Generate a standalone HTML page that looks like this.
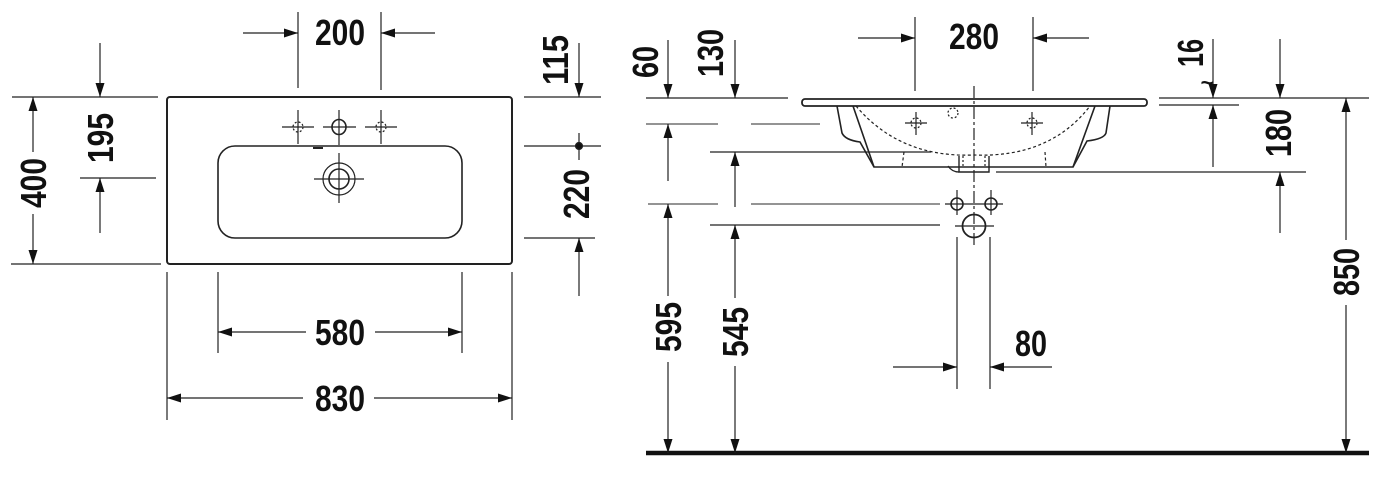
<!DOCTYPE html>
<html><head><meta charset="utf-8"><style>
html,body{margin:0;padding:0;background:#fff;}
svg{display:block}
text{font-family:"Liberation Sans",sans-serif;font-weight:bold;font-size:36px;fill:#111;}
</style></head><body>
<svg width="1400" height="481" viewBox="0 0 1400 481" xmlns="http://www.w3.org/2000/svg">
<defs>
<marker id="a" markerUnits="userSpaceOnUse" markerWidth="16" markerHeight="10" refX="14" refY="4.5" orient="auto">
<path d="M0,0 L14,4.5 L0,9 Z" fill="#111"/>
</marker>
</defs>
<g stroke="#222" stroke-width="1.2" fill="none">
<!-- LEFT VIEW -->
<rect x="167" y="97" width="345" height="167" rx="3" stroke-width="2"/>
<rect x="218" y="146" width="244" height="92" rx="17" stroke-width="1.6"/>
<!-- faucet holes -->
<line x1="282" y1="127" x2="314" y2="127"/><line x1="298" y1="110" x2="298" y2="144"/>
<circle cx="298" cy="127" r="5" stroke-dasharray="2,2"/>
<line x1="365" y1="127" x2="397" y2="127"/><line x1="381" y1="110" x2="381" y2="144"/>
<circle cx="381" cy="127" r="5" stroke-dasharray="2,2"/>
<line x1="323" y1="127" x2="356" y2="127"/><line x1="339" y1="110" x2="339" y2="145"/>
<ellipse cx="339" cy="127" rx="7" ry="7.5" stroke-width="1.6"/>
<line x1="313" y1="148" x2="323" y2="148" stroke-width="2"/>
<!-- drain -->
<ellipse cx="339" cy="179" rx="16" ry="16"/>
<ellipse cx="339" cy="179" rx="10" ry="10" stroke-width="1.6"/>
<line x1="314" y1="179" x2="364" y2="179"/><line x1="339" y1="153" x2="339" y2="203"/>
<!-- 200 -->
<line x1="298" y1="12" x2="298" y2="88"/><line x1="381" y1="12" x2="381" y2="90"/>
<line x1="243" y1="33" x2="298" y2="33" marker-end="url(#a)"/>
<line x1="435" y1="33" x2="381" y2="33" marker-end="url(#a)"/>
<!-- 195 / 400 -->
<line x1="12" y1="97" x2="158" y2="97"/>
<line x1="100" y1="43" x2="100" y2="97" marker-end="url(#a)"/>
<line x1="80" y1="178" x2="156" y2="178"/>
<line x1="100" y1="233" x2="100" y2="178" marker-end="url(#a)"/>
<line x1="11" y1="264" x2="161" y2="264"/>
<line x1="33" y1="152" x2="33" y2="97" marker-end="url(#a)"/>
<line x1="33" y1="214" x2="33" y2="264" marker-end="url(#a)"/>
<!-- 580 -->
<line x1="218" y1="272" x2="218" y2="353"/><line x1="462" y1="272" x2="462" y2="353"/>
<line x1="306" y1="332" x2="218" y2="332" marker-end="url(#a)"/>
<line x1="375" y1="332" x2="462" y2="332" marker-end="url(#a)"/>
<!-- 830 -->
<line x1="167" y1="272" x2="167" y2="420"/><line x1="512" y1="272" x2="512" y2="420"/>
<line x1="303" y1="398" x2="167" y2="398" marker-end="url(#a)"/>
<line x1="374" y1="398" x2="512" y2="398" marker-end="url(#a)"/>
<!-- 115 / 220 -->
<line x1="524" y1="97" x2="601" y2="97"/>
<line x1="579" y1="43" x2="579" y2="97" marker-end="url(#a)"/>
<line x1="524" y1="146" x2="601" y2="146"/>
<line x1="579" y1="133" x2="579" y2="160"/>
<circle cx="579" cy="146" r="3.5" fill="#111"/>
<line x1="524" y1="238" x2="595" y2="238"/>
<line x1="579" y1="296" x2="579" y2="238" marker-end="url(#a)"/>

<!-- RIGHT VIEW -->
<line x1="646" y1="453" x2="1369" y2="453" stroke="#111" stroke-width="4.5"/>
<rect x="802" y="99" width="345" height="7" rx="3" stroke-width="1.8"/>
<path d="M837,106 L842,133 Q845,140 860,142 L874,167 L1073,167 L1087,141 Q1104,139 1106,133 L1110,106" stroke-width="1.6"/>
<path d="M853,106 L874,167 M1095,106 L1073,167" stroke-width="1.6"/>
<path d="M856,106 Q900,158 974,155 Q1050,158 1090,106" stroke-dasharray="3,2.5"/>
<path d="M904,152 L902,167 M1045,152 L1046,167" stroke-dasharray="3,2.5"/>
<path d="M959,156 L959,172 L989,172 L989,156" stroke-width="1.4"/>
<path d="M963,156 L963,167 M985,156 L985,167" stroke-dasharray="2,2"/>
<path d="M948,166 Q952,172 959,172"/>
<circle cx="953" cy="113" r="5" stroke-dasharray="2,2"/>
<line x1="905" y1="123" x2="927" y2="123"/><line x1="916" y1="112" x2="916" y2="135"/>
<circle cx="916" cy="123" r="5" stroke-dasharray="2,2"/>
<line x1="1021" y1="123" x2="1043" y2="123"/><line x1="1032" y1="112" x2="1032" y2="135"/>
<circle cx="1032" cy="123" r="5" stroke-dasharray="2,2"/>
<line x1="974" y1="86" x2="974" y2="247" stroke-dasharray="12,3,3,3"/>
<!-- pipes -->
<circle cx="957" cy="204" r="6" stroke-width="1.6"/><circle cx="991" cy="204" r="6" stroke-width="1.6"/>
<line x1="945" y1="204" x2="1003" y2="204"/>
<line x1="957" y1="190" x2="957" y2="215"/><line x1="991" y1="190" x2="991" y2="215"/>
<circle cx="974" cy="226" r="11.5" stroke-width="1.8"/>
<line x1="955" y1="226" x2="994" y2="226"/>
<line x1="957" y1="237" x2="957" y2="389"/><line x1="990" y1="237" x2="990" y2="389"/>
<!-- 80 -->
<line x1="893" y1="367" x2="957" y2="367" marker-end="url(#a)"/>
<line x1="1052" y1="367" x2="990" y2="367" marker-end="url(#a)"/>
<!-- 280 -->
<line x1="915" y1="17" x2="915" y2="91"/><line x1="1033" y1="17" x2="1033" y2="91"/>
<line x1="858" y1="38" x2="915" y2="38" marker-end="url(#a)"/>
<line x1="1089" y1="38" x2="1033" y2="38" marker-end="url(#a)"/>
<!-- left dims -->
<line x1="646" y1="98" x2="788" y2="98"/>
<line x1="668" y1="40" x2="668" y2="98" marker-end="url(#a)"/>
<line x1="735" y1="40" x2="735" y2="98" marker-end="url(#a)"/>
<line x1="646" y1="124" x2="718" y2="124" stroke="#555"/><line x1="751" y1="124" x2="820" y2="124" stroke="#555"/>
<line x1="668" y1="181" x2="668" y2="124" marker-end="url(#a)"/>
<line x1="710" y1="152" x2="931" y2="152"/>
<line x1="735" y1="207" x2="735" y2="152" marker-end="url(#a)"/>
<line x1="648" y1="204" x2="718" y2="204" stroke="#555"/><line x1="751" y1="204" x2="940" y2="204" stroke="#555"/>
<line x1="668" y1="296" x2="668" y2="204" marker-end="url(#a)"/>
<line x1="668" y1="362" x2="668" y2="453" marker-end="url(#a)"/>
<line x1="710" y1="225" x2="940" y2="225"/>
<line x1="735" y1="298" x2="735" y2="225" marker-end="url(#a)"/>
<line x1="735" y1="366" x2="735" y2="453" marker-end="url(#a)"/>
<!-- right dims -->
<line x1="1159" y1="98" x2="1369" y2="98"/>
<line x1="1159" y1="105" x2="1239" y2="105"/>
<line x1="1213" y1="39" x2="1213" y2="98" marker-end="url(#a)"/>
<line x1="1213" y1="167" x2="1213" y2="105" marker-end="url(#a)"/>
<line x1="1280" y1="39" x2="1280" y2="98" marker-end="url(#a)"/>
<line x1="996" y1="172" x2="1306" y2="172"/>
<line x1="1280" y1="233" x2="1280" y2="172" marker-end="url(#a)"/>
<line x1="1346" y1="240" x2="1346" y2="98" marker-end="url(#a)"/>
<line x1="1346" y1="305" x2="1346" y2="453" marker-end="url(#a)"/>
</g>
<text x="1207" y="90" text-anchor="middle" style="font-size:22px">~</text>
<!-- horizontal labels -->
<text x="340" y="45" text-anchor="middle" textLength="50" lengthAdjust="spacingAndGlyphs">200</text>
<text x="340" y="345" text-anchor="middle" textLength="50" lengthAdjust="spacingAndGlyphs">580</text>
<text x="340" y="411" text-anchor="middle" textLength="50" lengthAdjust="spacingAndGlyphs">830</text>
<text x="974" y="49" text-anchor="middle" textLength="50" lengthAdjust="spacingAndGlyphs">280</text>
<text x="1031" y="356" text-anchor="middle" textLength="32" lengthAdjust="spacingAndGlyphs">80</text>
<!-- vertical labels -->
<text transform="translate(113,138) rotate(-90)" text-anchor="middle" textLength="50" lengthAdjust="spacingAndGlyphs">195</text>
<text transform="translate(46,183) rotate(-90)" text-anchor="middle" textLength="50" lengthAdjust="spacingAndGlyphs">400</text>
<text transform="translate(568,60) rotate(-90)" text-anchor="middle" textLength="50" lengthAdjust="spacingAndGlyphs">115</text>
<text transform="translate(589,194) rotate(-90)" text-anchor="middle" textLength="50" lengthAdjust="spacingAndGlyphs">220</text>
<text transform="translate(658,62) rotate(-90)" text-anchor="middle" textLength="32" lengthAdjust="spacingAndGlyphs">60</text>
<text transform="translate(723,53) rotate(-90)" text-anchor="middle" textLength="48" lengthAdjust="spacingAndGlyphs">130</text>
<text transform="translate(1203,53) rotate(-90)" text-anchor="middle" textLength="28" lengthAdjust="spacingAndGlyphs">16</text>
<text transform="translate(1291,133) rotate(-90)" text-anchor="middle" textLength="48" lengthAdjust="spacingAndGlyphs">180</text>
<text transform="translate(1359,272) rotate(-90)" text-anchor="middle" textLength="48" lengthAdjust="spacingAndGlyphs">850</text>
<text transform="translate(681,327) rotate(-90)" text-anchor="middle" textLength="50" lengthAdjust="spacingAndGlyphs">595</text>
<text transform="translate(748,332) rotate(-90)" text-anchor="middle" textLength="50" lengthAdjust="spacingAndGlyphs">545</text>
</svg>
</body></html>
